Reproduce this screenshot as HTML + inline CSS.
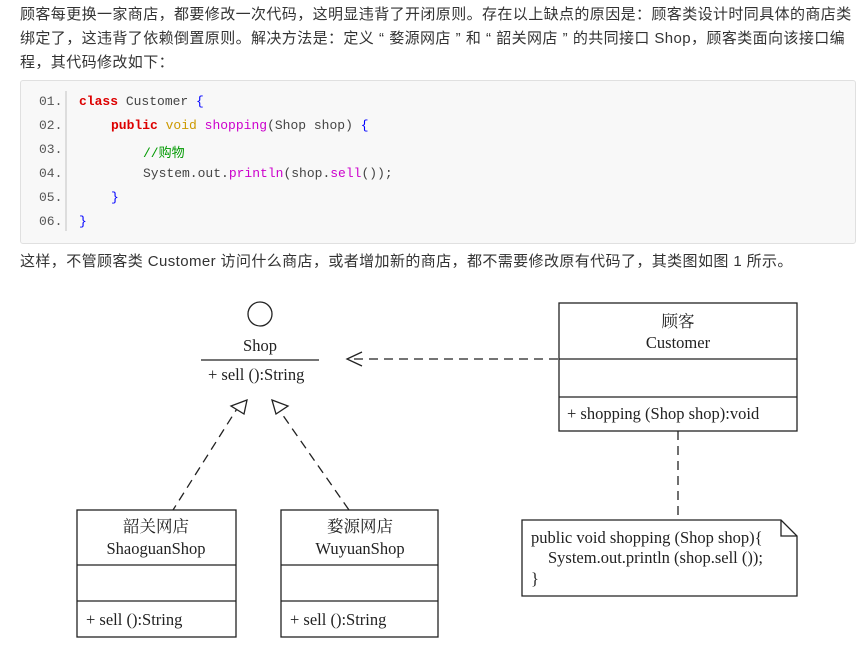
<!DOCTYPE html>
<html><head><meta charset="utf-8"><style>
body{margin:0;width:860px;height:647px;background:#fff;position:relative;overflow:hidden;font-family:"Liberation Sans","Noto Sans CJK SC",sans-serif;color:#333}
.p{position:absolute;left:20px;font-size:15px;letter-spacing:0.4px;line-height:24px;white-space:nowrap}
.code{position:absolute;left:20px;top:80px;width:834px;height:162px;background:#f8f8f8;border:1px solid #e0e0e0;border-radius:3px}
.gut{position:absolute;left:44px;top:10px;width:2px;height:140px;background:#ddd}
.ln{position:absolute;left:18px;font:13px "Liberation Mono","Noto Sans CJK SC",monospace;color:#555}
.cl{position:absolute;font:13px "Liberation Mono","Noto Sans CJK SC",monospace;color:#444;white-space:pre}
.k{font-weight:bold;color:#d00}
.s{font-family:"Liberation Serif","Noto Serif CJK SC",serif;font-size:16.5px;fill:#222}
.q{display:inline-block;width:15px;text-align:center}
</style></head><body>
<div class="p" style="top:3px">顾客每更换一家商店，都要修改一次代码，这明显违背了开闭原则。存在以上缺点的原因是：顾客类设计时同具体的商店类</div>
<div class="p" style="top:27px">绑定了，这违背了依赖倒置原则。解决方法是：定义<span class="q">“</span>婺源网店<span class="q">”</span>和<span class="q">“</span>韶关网店<span class="q">”</span>的共同接口 Shop，顾客类面向该接口编</div>
<div class="p" style="top:51px">程，其代码修改如下：</div>
<div class="code"><div class="gut"></div>
<div class="ln" style="top:13px">01.</div><div class="ln" style="top:37px">02.</div><div class="ln" style="top:61px">03.</div><div class="ln" style="top:85px">04.</div><div class="ln" style="top:109px">05.</div><div class="ln" style="top:133px">06.</div>
<div class="cl" style="left:58px;top:13px"><span class="k">class</span> Customer <span style="color:#00f">{</span></div>
<div class="cl" style="left:90px;top:37px"><span class="k">public</span> <span style="color:#c90">void</span> <span style="color:#c0c">shopping</span>(Shop shop) <span style="color:#00f">{</span></div>
<div class="cl" style="left:122px;top:61px;color:#090">//购物</div>
<div class="cl" style="left:122px;top:85px">System.out.<span style="color:#c0c">println</span>(shop.<span style="color:#c0c">sell</span>());</div>
<div class="cl" style="left:90px;top:109px;color:#00f">}</div>
<div class="cl" style="left:58px;top:133px;color:#00f">}</div>
</div>
<div class="p" style="top:250px">这样，不管顾客类 Customer 访问什么商店，或者增加新的商店，都不需要修改原有代码了，其类图如图 1 所示。</div>
<svg width="860" height="647" style="position:absolute;left:0;top:0" fill="none" stroke="#222" stroke-width="1.3">
<circle cx="260" cy="314" r="12"/>
<line x1="201" y1="360" x2="319" y2="360"/>
<text class="s" x="260" y="351" text-anchor="middle" stroke="none">Shop</text>
<text class="s" x="208" y="380" stroke="none">+ sell ():String</text>
<line x1="558" y1="359" x2="350" y2="359" stroke-dasharray="9,6"/>
<polyline points="362,352 347,359 362,366"/>
<line x1="240" y1="404" x2="173" y2="510" stroke-dasharray="9,6"/>
<polygon points="247,400 231,406 244,414" fill="#fff"/>
<line x1="275" y1="404" x2="349" y2="510" stroke-dasharray="9,6"/>
<polygon points="272,400 288,406 276,414" fill="#fff"/>
<rect x="77" y="510" width="159" height="127"/>
<line x1="77" y1="565" x2="236" y2="565"/><line x1="77" y1="601" x2="236" y2="601"/>
<text class="s" x="156" y="532" text-anchor="middle" stroke="none">韶关网店</text>
<text class="s" x="156" y="554" text-anchor="middle" stroke="none">ShaoguanShop</text>
<text class="s" x="86" y="625" stroke="none">+ sell ():String</text>
<rect x="281" y="510" width="157" height="127"/>
<line x1="281" y1="565" x2="438" y2="565"/><line x1="281" y1="601" x2="438" y2="601"/>
<text class="s" x="360" y="532" text-anchor="middle" stroke="none">婺源网店</text>
<text class="s" x="360" y="554" text-anchor="middle" stroke="none">WuyuanShop</text>
<text class="s" x="290" y="625" stroke="none">+ sell ():String</text>
<rect x="559" y="303" width="238" height="128"/>
<line x1="559" y1="359" x2="797" y2="359"/><line x1="559" y1="397" x2="797" y2="397"/>
<text class="s" x="678" y="327" text-anchor="middle" stroke="none">顾客</text>
<text class="s" x="678" y="348" text-anchor="middle" stroke="none">Customer</text>
<text class="s" x="567" y="419" stroke="none">+ shopping (Shop shop):void</text>
<line x1="678" y1="431" x2="678" y2="520" stroke-dasharray="9,6"/>
<polygon points="522,520 781,520 797,536 797,596 522,596"/>
<polyline points="781,520 781,536 797,536"/>
<text class="s" x="531" y="543" stroke="none">public void shopping (Shop shop){</text>
<text class="s" x="548" y="563" stroke="none">System.out.println (shop.sell ());</text>
<text class="s" x="531" y="584" stroke="none">}</text>
</svg>
</body></html>
